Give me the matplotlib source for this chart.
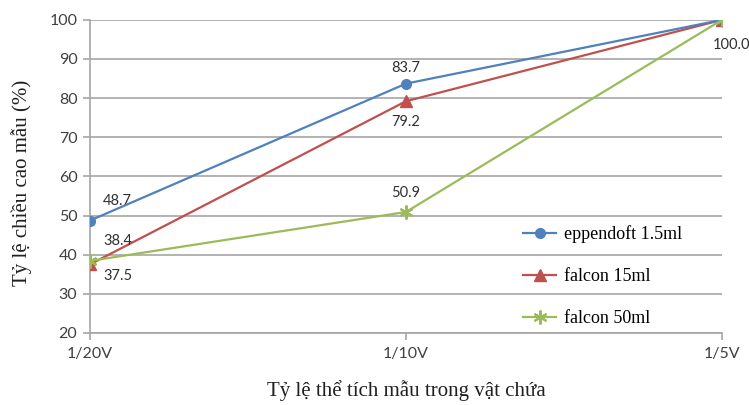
import numpy as np
import matplotlib.pyplot as plt

# Tỷ lệ thể tích mẫu trong vật chứa
categories = ['1/20V', '1/10V', '1/5V']

eppendorf = [48.7, 83.7, 100.0]
falcon15 = [37.5, 79.2, 100.0]
falcon50 = [38.4, 50.9, 100.0]

yticks = [20, 30, 40, 50, 60, 70, 80, 90, 100]

blue = '#4F81BD'
red = '#C0504D'
green = '#9BBB59'
grid_gray = '#A6A6A6'
text_gray = '#404040'

fig = plt.figure(figsize=(7.49, 4.05), dpi=100)
ax = fig.add_axes([0.120, 0.178, 0.844, 0.773])

x = np.arange(len(categories))

ax.plot(x, eppendorf, color=blue, lw=1.6, marker='o', ms=7,
        label='eppendoft 1.5ml', zorder=4)
ax.plot(x, falcon15, color=red, lw=1.6, marker='^', ms=8,
        label='falcon 15ml', zorder=3)
ax.plot(x, falcon50, color=green, lw=1.6, marker=(6, 2, 0), ms=10, mew=1.5,
        label='falcon 50ml', zorder=5)

# value labels
lab = dict(fontsize=10.5, color='#303030', family='Lato', ha='center', va='center')
ax.annotate(f'{eppendorf[0]:.1f}', (x[0], eppendorf[0]), xytext=(20, 14),
            textcoords='offset points', **lab)
ax.annotate(f'{falcon50[0]:.1f}', (x[0], falcon50[0]), xytext=(20, 14),
            textcoords='offset points', **lab)
ax.annotate(f'{falcon15[0]:.1f}', (x[0], falcon15[0]), xytext=(20, -8),
            textcoords='offset points', **lab)
ax.annotate(f'{eppendorf[1]:.1f}', (x[1], eppendorf[1]), xytext=(0, 11),
            textcoords='offset points', **lab)
ax.annotate(f'{falcon15[1]:.1f}', (x[1], falcon15[1]), xytext=(0, -15),
            textcoords='offset points', **lab)
ax.annotate(f'{falcon50[1]:.1f}', (x[1], falcon50[1]), xytext=(0, 14),
            textcoords='offset points', **lab)
ax.annotate(f'{falcon50[2]:.1f}', (x[2], falcon50[2]), xytext=(7, -18),
            textcoords='offset points', annotation_clip=False, **lab)

ax.set_xlim(0, 2)
ax.set_ylim(20, 100)
ax.set_xticks(x)
ax.set_xticklabels(categories)
ax.set_yticks(yticks)
ax.yaxis.grid(True, color=grid_gray, lw=1.2)
ax.set_axisbelow(True)

for s in ['top', 'right']:
    ax.spines[s].set_visible(False)
for s in ['left', 'bottom']:
    ax.spines[s].set_color(grid_gray)
    ax.spines[s].set_linewidth(1.2)

ax.tick_params(axis='both', colors=grid_gray, length=5, width=1.2)
ax.tick_params(axis='x', pad=5)
ax.tick_params(axis='y', pad=4)
for t in ax.get_xticklabels() + ax.get_yticklabels():
    t.set_color(text_gray)
    t.set_fontsize(11.5)
    t.set_family('Lato')

ax.set_xlabel('Tỷ lệ thể tích mẫu trong vật chứa', family='Liberation Serif',
              fontsize=15, labelpad=14, color='#202020')
ax.set_ylabel('Tỷ lệ chiều cao mẫu (%)', family='Liberation Serif',
              fontsize=15, color='#202020')
ax.yaxis.set_label_coords(-0.092, 0.48)

leg = ax.legend(loc='upper left', bbox_to_anchor=(0.66, 0.395), frameon=False,
                prop={'family': 'Liberation Serif', 'size': 13},
                labelspacing=1.38, handlelength=1.8, handletextpad=0.45)

fig.savefig('out.png', dpi=100, facecolor='white')
